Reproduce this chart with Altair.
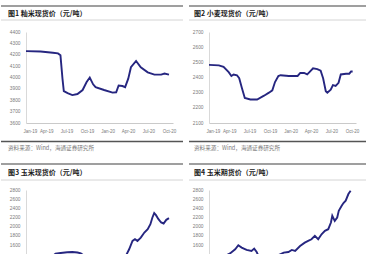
import altair as alt
import pandas as pd

CJK = "Noto Sans CJK SC"
LATIN = "Liberation Sans"
LINE_COLOR = "#262680"

titles = ["图1 籼米现货价（元/吨）", "图2 小麦现货价（元/吨）", "图3 玉米现货价（元/吨）", "图4 玉米期货价（元/吨）"]
source = "资料来源：Wind，海通证券研究所"

# Panel 1
p1_dates = ["2019-01-01", "2019-03-07", "2019-05-01", "2019-05-24", "2019-06-04", "2019-06-13",
            "2019-06-19", "2019-07-06", "2019-07-27", "2019-08-19", "2019-09-11", "2019-09-29",
            "2019-10-13", "2019-10-28", "2019-11-08", "2019-12-16", "2020-01-23", "2020-02-08",
            "2020-02-19", "2020-03-07", "2020-03-19", "2020-04-02", "2020-04-14", "2020-05-07",
            "2020-05-28", "2020-06-28", "2020-07-28", "2020-08-27", "2020-09-11", "2020-10-01"]
p1_vals = [4232, 4228, 4218, 4212, 4195, 3990, 3880, 3862, 3845, 3855, 3890, 3960,
           4000, 3940, 3915, 3890, 3867, 3870, 3930, 3925, 3915, 3990, 4090, 4145,
           4090, 4045, 4025, 4025, 4035, 4025]
p1_ticks = [3600, 3700, 3800, 3900, 4000, 4100, 4200, 4300, 4400]

# Panel 2
p2_dates = ["2019-01-01", "2019-02-14", "2019-03-07", "2019-03-30", "2019-04-11", "2019-04-21",
            "2019-05-06", "2019-05-16", "2019-05-28", "2019-06-10", "2019-07-05", "2019-08-04",
            "2019-09-04", "2019-09-26", "2019-10-11", "2019-10-23", "2019-11-07", "2019-11-17",
            "2019-12-24", "2020-02-01", "2020-02-13", "2020-03-01", "2020-03-15", "2020-03-25",
            "2020-04-10", "2020-04-29", "2020-05-14", "2020-05-25", "2020-06-06", "2020-06-13",
            "2020-06-28", "2020-07-08", "2020-07-20", "2020-08-02", "2020-08-12", "2020-09-04",
            "2020-09-19", "2020-09-27", "2020-10-04"]
p2_vals = [2483, 2480, 2470, 2435, 2410, 2420, 2415, 2395, 2330, 2265, 2255, 2255,
           2280, 2300, 2315, 2370, 2410, 2415, 2410, 2410, 2430, 2430, 2420, 2435,
           2460, 2455, 2445, 2395, 2310, 2300, 2320, 2350, 2345, 2365, 2420, 2425,
           2425, 2440, 2440]
p2_ticks = [2100, 2200, 2300, 2400, 2500, 2600, 2700]

# Panel 3
p3_dates = ["2019-01-01", "2019-03-01", "2019-05-06", "2019-05-13", "2019-06-05", "2019-07-04",
            "2019-07-27", "2019-08-19", "2019-09-03", "2019-09-15", "2019-11-01", "2020-01-01",
            "2020-03-15", "2020-03-22", "2020-04-06", "2020-04-21", "2020-05-02", "2020-05-13",
            "2020-05-28", "2020-06-13", "2020-06-28", "2020-07-10", "2020-07-19", "2020-07-27",
            "2020-08-04", "2020-08-15", "2020-08-27", "2020-09-07", "2020-09-19", "2020-10-01"]
p3_vals = [1300, 1330, 1385, 1414, 1430, 1445, 1450, 1440, 1420, 1380, 1320, 1300,
           1340, 1364, 1510, 1692, 1728, 1692, 1765, 1874, 1947, 2056, 2202, 2297,
           2253, 2166, 2093, 2071, 2151, 2187]

# Panel 4
p4_dates = ["2019-01-01", "2019-02-15", "2019-03-22", "2019-04-05", "2019-04-28", "2019-05-12",
            "2019-05-27", "2019-06-18", "2019-07-10", "2019-07-22", "2019-08-02", "2019-08-09",
            "2019-09-15", "2019-11-01", "2019-11-15", "2019-12-01", "2019-12-22", "2020-01-06",
            "2020-01-21", "2020-02-12", "2020-03-04", "2020-03-19", "2020-04-03", "2020-04-18",
            "2020-05-03", "2020-05-18", "2020-06-02", "2020-06-17", "2020-06-29", "2020-07-05",
            "2020-07-16", "2020-07-27", "2020-08-03", "2020-08-16", "2020-08-24", "2020-09-03",
            "2020-09-15", "2020-09-25"]
p4_vals = [1300, 1330, 1385, 1420, 1509, 1597, 1546, 1495, 1473, 1524, 1451, 1378,
           1330, 1370, 1400, 1436, 1451, 1495, 1473, 1582, 1655, 1692, 1728, 1801,
           1728, 1837, 1910, 1947, 2093, 2239, 2129, 2202, 2348, 2457, 2516, 2567,
           2712, 2785]
p34_ticks = [1600, 1800, 2000, 2200, 2400, 2600, 2800]

tick_months = [(2019, 1), (2019, 4), (2019, 7), (2019, 10), (2020, 1), (2020, 4), (2020, 7), (2020, 10)]
X_DOMAIN = [alt.DateTime(year=2019, month=1, date=1), alt.DateTime(year=2020, month=10, date=19)]
X_TICKS = [alt.DateTime(year=y, month=m, date=1) for y, m in tick_months]

W = 147
H_TOP = 91
H_BOT = 64
ONE = pd.DataFrame({"k": [0]})


def hrule(x1, x2, y, color, width):
    return alt.Chart(ONE).mark_rule(color=color, strokeWidth=width).encode(
        x=alt.value(x1), x2=alt.value(x2), y=alt.value(y))


def label(text, x, y, size, color, weight="normal"):
    return alt.Chart(ONE).mark_text(text=text, align="left", baseline="middle", fontSize=size,
                                    color=color, fontWeight=weight, font=CJK).encode(
        x=alt.value(x), y=alt.value(y))


def panel(dates, vals, domain, ticks, title, height, left, top_row, anchor=False):
    df = pd.DataFrame({"date": pd.to_datetime(dates), "price": vals})
    if top_row:
        xaxis = alt.Axis(values=X_TICKS, format="%b-%y", formatType="time", title=None,
                         labelFontSize=4.5, labelColor="#7a7a7a", labelPadding=5, ticks=False,
                         grid=False, domainColor="#bdbdbd", domainWidth=0.8, labelFont=LATIN,
                         labelOverlap=False,
                         labelOffset={"condition": {"test": "datum.index == 0", "value": -3},
                                      "value": 0})
    else:
        xaxis = None
    line = alt.Chart(df).mark_line(color=LINE_COLOR, strokeWidth=1.9, clip=True).encode(
        x=alt.X("date:T", scale=alt.Scale(domain=X_DOMAIN), axis=xaxis),
        y=alt.Y("price:Q", scale=alt.Scale(domain=domain, nice=False, zero=False),
                axis=alt.Axis(values=ticks, format="d", title=None, labelFontSize=4.8,
                              labelColor="#7a7a7a", labelPadding=6, ticks=False, grid=False,
                              domainColor="#cfcfcf", domainWidth=0.8, labelFont=LATIN)),
    )
    x1 = -25 if left else -20
    tx = -18 if left else -15
    layers = [line, hrule(x1, 157, -26, "#7f7f7f", 1.5)]
    if top_row:
        layers += [label(title, tx, -18, 7, "#1a1a1a", "bold"),
                   hrule(x1, 157, -12, "#d4d4d4", 1),
                   hrule(x1, 157, height + 18.5, "#555555", 1.5),
                   label(source, tx, height + 25, 5.6, "#7a7a7a")]
    else:
        layers += [label(title, tx, -17, 7, "#1a1a1a", "bold"),
                   hrule(x1, 157, -10, "#d4d4d4", 1)]
    if anchor:
        layers.append(hrule(-25, 0, -31, "#ffffff", 0.5))
    return alt.layer(*layers).properties(width=W, height=height)


p1 = panel(p1_dates, p1_vals, [3600, 4400], p1_ticks, titles[0], H_TOP, True, True, anchor=True)
p2 = panel(p2_dates, p2_vals, [2100, 2700], p2_ticks, titles[1], H_TOP, False, True)
bot_min = 2800 - H_BOT / 9.19 * 200
p3 = panel(p3_dates, p3_vals, [bot_min, 2800], p34_ticks, titles[2], H_BOT, True, False)
p4 = panel(p4_dates, p4_vals, [bot_min, 2800], p34_ticks, titles[3], H_BOT, False, False)

chart = alt.concat(p1, p2, p3, p4, columns=2, spacing={"row": 67, "column": 36},
                   bounds="flush").properties(padding=0, background="white").configure_view(stroke=None)

chart.save("out.html", embed_options={"renderer": "svg", "actions": False})
